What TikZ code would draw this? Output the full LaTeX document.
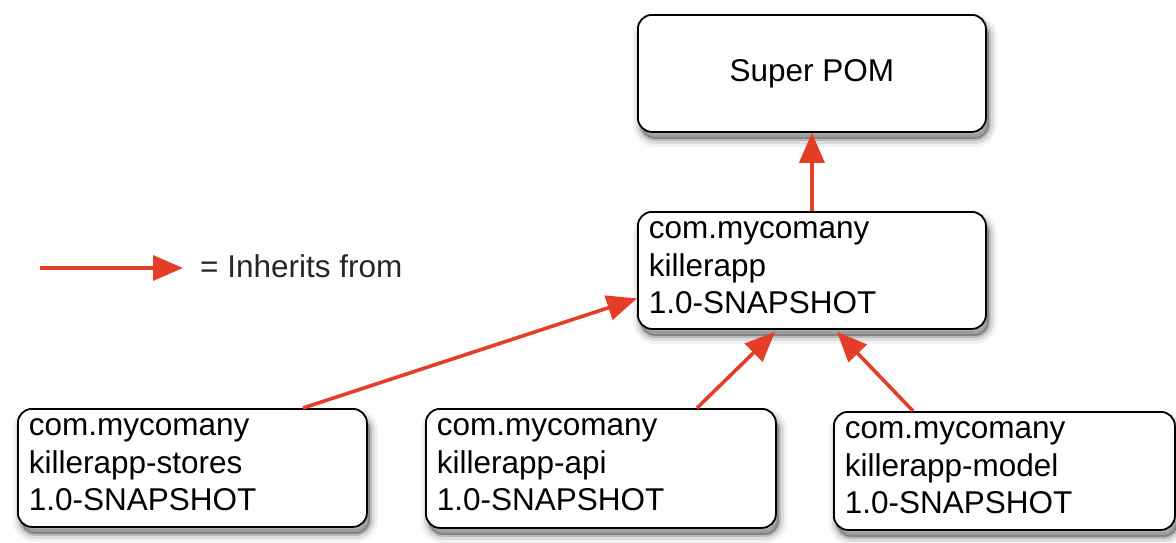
\documentclass[tikz,border=0pt]{standalone}
\usepackage{fontspec}
\setmainfont{Liberation Sans}
\usetikzlibrary{arrows.meta}
\definecolor{inhred}{RGB}{228,62,40}
\begin{document}
\begin{tikzpicture}[x=1pt,y=-1pt,
  font=\fontsize{31.5}{37.5}\selectfont,
  softshadow/.style={
    preaction={draw=black, line width=16pt, draw opacity=0.05, fill=black, fill opacity=0.05, transform canvas={shift={(3pt,-7pt)}}},
    preaction={draw=black, line width=10pt, draw opacity=0.09, fill=black, fill opacity=0.09, transform canvas={shift={(3pt,-7pt)}}},
    preaction={draw=black, line width=4pt, draw opacity=0.16, fill=black, fill opacity=0.16, transform canvas={shift={(3pt,-7pt)}}}},
  basebox/.style={draw=black, line width=1.8pt, fill=white, rounded corners=14pt, softshadow, anchor=north west},
  modbox/.style={basebox, inner xsep=11pt, inner ysep=0pt, align=left, text height=27pt},
  inherit/.style={draw=inhred, line width=3.6pt, -{Triangle[length=30pt,width=25pt]}}
]
\useasboundingbox (0,0) rectangle (1176,542);

\node[basebox, minimum width=348pt, minimum height=117pt, inner sep=0pt] (super) at (637,14) {Super POM};
\node[modbox, text width=326pt, text depth=90pt] (killer) at (637,211) {com.mycomany\\killerapp\\1.0-SNAPSHOT};
\node[modbox, text width=327pt, text depth=91pt] (stores) at (17,408) {com.mycomany\\killerapp-stores\\1.0-SNAPSHOT};
\node[modbox, text width=328pt, text depth=92pt] (api) at (425,408) {com.mycomany\\killerapp-api\\1.0-SNAPSHOT};
\node[modbox, text width=319pt, text depth=91pt] (model) at (833,411) {com.mycomany\\killerapp-model\\1.0-SNAPSHOT};

\draw[inherit] (killer.north) -- (super.south);
\draw[inherit] ([xshift=286pt]stores.north west) -- ([yshift=-28pt]killer.west);
\draw[inherit] ([xshift=272pt]api.north west) -- ([xshift=138pt,yshift=-2pt]killer.south west);
\draw[inherit] ([xshift=80pt]model.north west) -- ([xshift=200pt,yshift=-2pt]killer.south west);

\coordinate (lgstart) at (40,268);
\coordinate (lgend) at (183,268);
\draw[inherit] (lgstart) -- (lgend);
\node[anchor=base west, inner sep=0pt, text=black!85] (legend) at (200,277) {= Inherits from};
\end{tikzpicture}
\end{document}
